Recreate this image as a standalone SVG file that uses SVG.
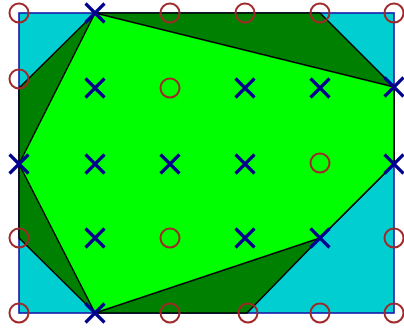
<svg xmlns="http://www.w3.org/2000/svg" width="404" height="336" viewBox="0 0 404 336">
<defs>
<style>
.o{fill:none;stroke:#a02828;stroke-width:2}
.x{stroke:#00008f;stroke-width:3.2;stroke-linecap:butt}
.e{stroke:#000;stroke-width:1.5;stroke-linejoin:round}
</style>
<g id="xm"><path class="x" d="M-9.5,-9.5L9.5,9.5M-9.5,9.5L9.5,-9.5"/></g>
<circle id="om" class="o" r="9.5"/>
</defs>
<rect width="404" height="336" fill="#fff"/>
<g id="domain">
<rect x="19" y="13" width="375" height="300" fill="#00ced1" stroke="#1a1aa8" stroke-width="1.6"/>
</g>
<g id="outer">
<polygon class="e" fill="#008000" points="95,13 320,13 394,87 394,164 320,238 247,313 95,313 19,238 19,164 19,88"/>
</g>
<g id="hull">
<polygon class="e" fill="#00ff00" points="95,13 394,87 394,164 320,238 95,313 19,164"/>
</g>
<g id="circles">
<use href="#om" x="19" y="13"/><use href="#om" x="170" y="13"/><use href="#om" x="245" y="13"/><use href="#om" x="320" y="13"/><use href="#om" x="394" y="13"/>
<use href="#om" x="19" y="79"/><use href="#om" x="170" y="88"/>
<use href="#om" x="320" y="163"/>
<use href="#om" x="19" y="238"/><use href="#om" x="170" y="238"/><use href="#om" x="394" y="238"/>
<use href="#om" x="19" y="313"/><use href="#om" x="170" y="313"/><use href="#om" x="248" y="313"/><use href="#om" x="320" y="313"/><use href="#om" x="394" y="313"/>
</g>
<g id="crosses">
<use href="#xm" x="95" y="13"/>
<use href="#xm" x="95" y="88"/><use href="#xm" x="245" y="88"/><use href="#xm" x="320" y="88"/><use href="#xm" x="394" y="87"/>
<use href="#xm" x="19" y="164"/><use href="#xm" x="95" y="164"/><use href="#xm" x="170" y="164"/><use href="#xm" x="245" y="164"/><use href="#xm" x="394" y="164"/>
<use href="#xm" x="95" y="238"/><use href="#xm" x="245" y="238"/><use href="#xm" x="320" y="238"/>
<use href="#xm" x="95" y="313"/>
</g>
</svg>
